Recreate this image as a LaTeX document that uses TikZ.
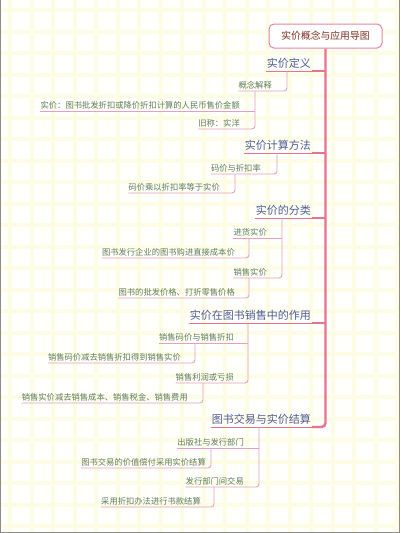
\documentclass[tikz,border=0pt]{standalone}
\usepackage{fontspec}
\setmainfont{Noto Sans CJK SC}
\definecolor{rootpink}{HTML}{E884A2}
\definecolor{roottext}{HTML}{7A2E1E}
\definecolor{trunkpink}{HTML}{E8728F}
\definecolor{topicblue}{HTML}{4D5C98}
\definecolor{leafgreen}{HTML}{5E7C5C}
\definecolor{twigpink}{HTML}{E4A0C4}
\definecolor{gridyellow}{HTML}{FDFCE4}
\definecolor{paper}{HTML}{FFFFFB}

\begin{document}
\begin{tikzpicture}[
  x=1pt, y=-1pt,
  root/.style = {
    rounded corners=5pt,
    draw=rootpink,
    line width=1pt,
    fill=white,
    text=roottext,
    font=\fontsize{9.8}{11}\selectfont,
    minimum width=113pt,
    minimum height=24pt
  },
  topic/.style = {
    anchor=south east,
    inner xsep=1pt,
    inner ysep=2pt,
    text=topicblue,
    font=\fontsize{11}{12}\selectfont
  },
  leaf/.style = {
    anchor=south east,
    inner xsep=0pt,
    inner ysep=1.8pt,
    text=leafgreen,
    font=\fontsize{8.3}{9}\selectfont
  },
  trunk/.style = {
    trunkpink,
    line width=2.4pt,
    rounded corners=4pt
  },
  topic line/.style = {
    trunkpink,
    line width=1pt
  },
  twig/.style = {
    twigpink,
    line width=0.9pt,
    rounded corners=3pt
  },
  grid line/.style = {
    gridyellow,
    line width=4pt
  },
  frame/.style = {
    gray!90,
    line width=1.2pt
  }
]

\useasboundingbox (0,0) rectangle (400,533);

% paper with soft grid
\fill[paper] (0,0) rectangle (400,533);
\begin{scope}
  \clip (0,0) rectangle (400,533);
  \foreach \x in {10,31.5,...,400} \draw[grid line] (\x,0) -- (\x,533);
  \foreach \y in {10,31.5,...,533} \draw[grid line] (0,\y) -- (400,\y);
\end{scope}
\draw[frame] (0.6,0) -- (0.6,532.4) -- (399.4,532.4) -- (399.4,0);

\node[root] (root) at (325.5,36) {实价概念与应用导图};

% main topics
\node[topic] (t1) at (312,71)  {实价定义};
\node[topic] (t2) at (312,153) {实价计算方法};
\node[topic] (t3) at (312,218) {实价的分类};
\node[topic] (t4) at (312,323) {实价在图书销售中的作用};
\node[topic] (t5) at (312,427) {图书交易与实价结算};

% sub topics and details
\node[leaf] (t1a)  at (272,91)  {概念解释};
\node[leaf] (t1a1) at (240,111) {实价：图书批发折扣或降价折扣计算的人民币售价金额};
\node[leaf] (t1a2) at (240,129) {旧称：实洋};

\node[leaf] (t2a)  at (261,174) {码价与折扣率};
\node[leaf] (t2a1) at (220,193) {码价乘以折扣率等于实价};

\node[leaf] (t3a)  at (267,238) {进货实价};
\node[leaf] (t3a1) at (235,258) {图书发行企业的图书购进直接成本价};
\node[leaf] (t3b)  at (267,278) {销售实价};
\node[leaf] (t3b1) at (235,298) {图书的批发价格、打折零售价格};

\node[leaf] (t4a)  at (234,343) {销售码价与销售折扣};
\node[leaf] (t4a1) at (181,363) {销售码价减去销售折扣得到销售实价};
\node[leaf] (t4b)  at (234,383) {销售利润或亏损};
\node[leaf] (t4b1) at (188,403) {销售实价减去销售成本、销售税金、销售费用};

\node[leaf] (t5a)  at (244,448) {出版社与发行部门};
\node[leaf] (t5a1) at (206,468) {图书交易的价值偿付采用实价结算};
\node[leaf] (t5b)  at (244,487) {发行部门间交易};
\node[leaf] (t5b1) at (201,507) {采用折扣办法进行书款结算};

% branch points
\coordinate (v1)  at (287,71);
\coordinate (v1a) at (255,91);
\coordinate (v2)  at (277,153);
\coordinate (v2a) at (235,174);
\coordinate (v3)  at (282,218);
\coordinate (v3a) at (249,238);
\coordinate (v3b) at (249,278);
\coordinate (v4)  at (248,323);
\coordinate (v4a) at (195,343);
\coordinate (v4b) at (203,383);
\coordinate (v5)  at (259,427);
\coordinate (v5a) at (211,448);
\coordinate (v5b) at (214,487);

% trunk
\draw[trunk] (root.south) |- (t5.south east);
\foreach \t in {t1,t2,t3,t4}
  \draw[trunk] (\t.south east) -- (\t.south east -| root.south);
\foreach \t in {t1,t2,t3,t4,t5}
  \draw[topic line] (\t.south west) -- (\t.south east);

% twigs
\draw[twig] (v1) |- (t1a.south west);
\draw[twig] (v1a) |- (t1a2.south west);
\draw[twig] (v1a |- t1a1.south) -- (t1a1.south west);

\draw[twig] (v2) |- (t2a.south west);
\draw[twig] (v2a) |- (t2a1.south west);

\draw[twig] (v3) |- (t3b.south west);
\draw[twig] (v3 |- t3a.south) -- (t3a.south west);
\draw[twig] (v3a) |- (t3a1.south west);
\draw[twig] (v3b) |- (t3b1.south west);

\draw[twig] (v4) |- (t4b.south west);
\draw[twig] (v4 |- t4a.south) -- (t4a.south west);
\draw[twig] (v4a) |- (t4a1.south west);
\draw[twig] (v4b) |- (t4b1.south west);

\draw[twig] (v5) |- (t5b.south west);
\draw[twig] (v5 |- t5a.south) -- (t5a.south west);
\draw[twig] (v5a) |- (t5a1.south west);
\draw[twig] (v5b) |- (t5b1.south west);

\end{tikzpicture}
\end{document}
